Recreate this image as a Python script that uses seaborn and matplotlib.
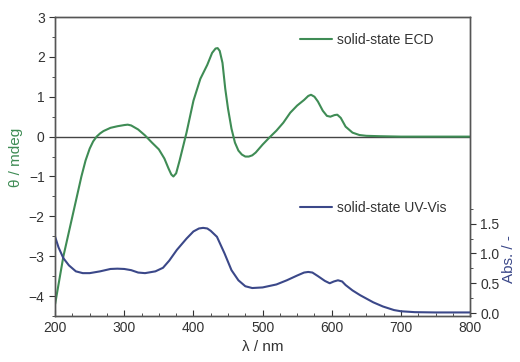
import numpy as np
import pandas as pd
import seaborn as sns
import matplotlib.pyplot as plt
from matplotlib.ticker import MultipleLocator, FixedLocator

# --- data ---
ecd_wl = [200, 212, 225, 238, 244, 250, 255, 260, 265, 270, 280, 290, 300, 305, 310, 320,
          330, 340, 350, 358, 364, 368, 371, 375, 380, 385, 390, 400, 410, 420, 427, 432, 435,
          438, 442, 446, 450, 455, 460, 465, 470, 475, 480, 485, 490, 500, 510, 520, 530, 540, 550,
          560, 566, 570, 575, 580, 587, 593, 598, 604, 608, 613, 620, 630, 640, 650, 670, 700,
          750, 800]
ecd_theta = [-4.2, -3.0, -2.0, -1.0, -0.6, -0.3, -0.12, 0.0, 0.08, 0.14, 0.22, 0.26, 0.29, 0.3, 0.28, 0.18,
             0.03, -0.15, -0.32, -0.55, -0.8, -0.95, -1.0, -0.92, -0.6, -0.25, 0.1, 0.9, 1.45, 1.8, 2.1, 2.21, 2.22,
             2.15, 1.85, 1.2, 0.7, 0.2, -0.15, -0.35, -0.45, -0.5, -0.5, -0.47, -0.4, -0.2, -0.02, 0.15, 0.35, 0.6, 0.78,
             0.92, 1.02, 1.05, 1.0, 0.88, 0.65, 0.52, 0.5, 0.54, 0.55, 0.47, 0.25, 0.1, 0.04, 0.02, 0.01, 0.0,
             0.0, 0.0]

uv_wl = [200, 205, 212, 220, 230, 240, 250, 265, 280, 290, 300, 310, 320, 330, 345,
         356, 365, 376, 390, 400, 408, 414, 420, 425, 434, 445, 455, 465, 475, 485, 500,
         520, 535, 550, 560, 566, 572, 580, 590, 597, 603, 609, 615, 620, 630, 641, 660, 674, 690, 700, 720,
         750, 800]
uv_abs = [1.28, 1.1, 0.92, 0.8, 0.7, 0.67, 0.67, 0.7, 0.74, 0.745, 0.74, 0.72, 0.68, 0.67, 0.7,
          0.76, 0.88, 1.06, 1.25, 1.37, 1.42, 1.43, 1.42, 1.38, 1.28, 1.0, 0.72, 0.55, 0.45, 0.42, 0.43,
          0.48, 0.55, 0.63, 0.68, 0.69, 0.68, 0.62, 0.54, 0.5, 0.53, 0.55, 0.53, 0.47, 0.38, 0.3, 0.18, 0.11, 0.05, 0.03, 0.015,
          0.01, 0.01]

ecd_df = pd.DataFrame({"wl": ecd_wl, "theta": ecd_theta})
uv_df = pd.DataFrame({"wl": uv_wl, "abs": uv_abs})

green = "#3f8c55"
navy = "#3b4889"
txt = "#333333"

sns.set_style("ticks")
plt.rcParams['font.family'] = ['Liberation Sans', 'DejaVu Sans']

fig = plt.figure(figsize=(5.2, 3.62), dpi=100)
ax = fig.add_axes([0.106, 0.127, 0.798, 0.826])
ax2 = ax.twinx()

sns.lineplot(data=ecd_df, x="wl", y="theta", ax=ax, color=green, lw=1.5,
             label="solid-state ECD", legend=False)
sns.lineplot(data=uv_df, x="wl", y="abs", ax=ax2, color=navy, lw=1.5,
             label="solid-state UV-Vis", legend=False)

ax.axhline(0, color="#444444", lw=1, zorder=0)

ax.set_xlim(200, 800)
ax.set_ylim(-4.5, 3)
ax2.set_ylim(-0.05, 4.97)

ax.xaxis.set_major_locator(MultipleLocator(100))
ax.xaxis.set_minor_locator(MultipleLocator(25))
ax.yaxis.set_major_locator(MultipleLocator(1))
ax.yaxis.set_minor_locator(MultipleLocator(0.5))
ax2.yaxis.set_major_locator(FixedLocator([0, 0.5, 1.0, 1.5]))
ax2.yaxis.set_minor_locator(FixedLocator([0.25, 0.75, 1.25, 1.75]))
ax2.yaxis.set_major_formatter(plt.FuncFormatter(lambda v, p: f"{v:.1f}"))

ax.tick_params(axis="x", which="both", direction="in", top=False, colors=txt, labelsize=10)
ax.tick_params(axis="x", which="major", length=4)
ax.tick_params(axis="x", which="minor", length=2.5)
ax.tick_params(axis="y", which="both", direction="out", colors=txt, labelsize=10)
ax.tick_params(axis="y", which="major", length=4)
ax.tick_params(axis="y", which="minor", length=2.5)
ax2.tick_params(axis="y", which="both", direction="out", colors=txt, labelsize=10)
ax2.tick_params(axis="y", which="major", length=4)
ax2.tick_params(axis="y", which="minor", length=2.5)

for a in (ax, ax2):
    for s in a.spines.values():
        s.set_color("#555555")
        s.set_linewidth(1)
        s.set_visible(True)

ax.set_xlabel("λ / nm", fontsize=11, color=txt)
ax.set_ylabel("θ / mdeg", fontsize=11, color=green)
ax.yaxis.set_label_coords(-0.078, 0.53)
ax2.set_ylabel("Abs. / -", fontsize=11, color=navy)
ax2.yaxis.set_label_coords(1.078, 0.19)

ax.legend(loc="center left", bbox_to_anchor=(0.59, 0.923), frameon=False,
          borderpad=0, borderaxespad=0, handlelength=2.3, handletextpad=0.4,
          fontsize=10, labelcolor=txt)
ax2.legend(loc="center left", bbox_to_anchor=(0.59, 0.361), frameon=False,
           borderpad=0, borderaxespad=0, handlelength=2.3, handletextpad=0.4,
           fontsize=10, labelcolor=txt)

fig.savefig("out.png", dpi=100)
